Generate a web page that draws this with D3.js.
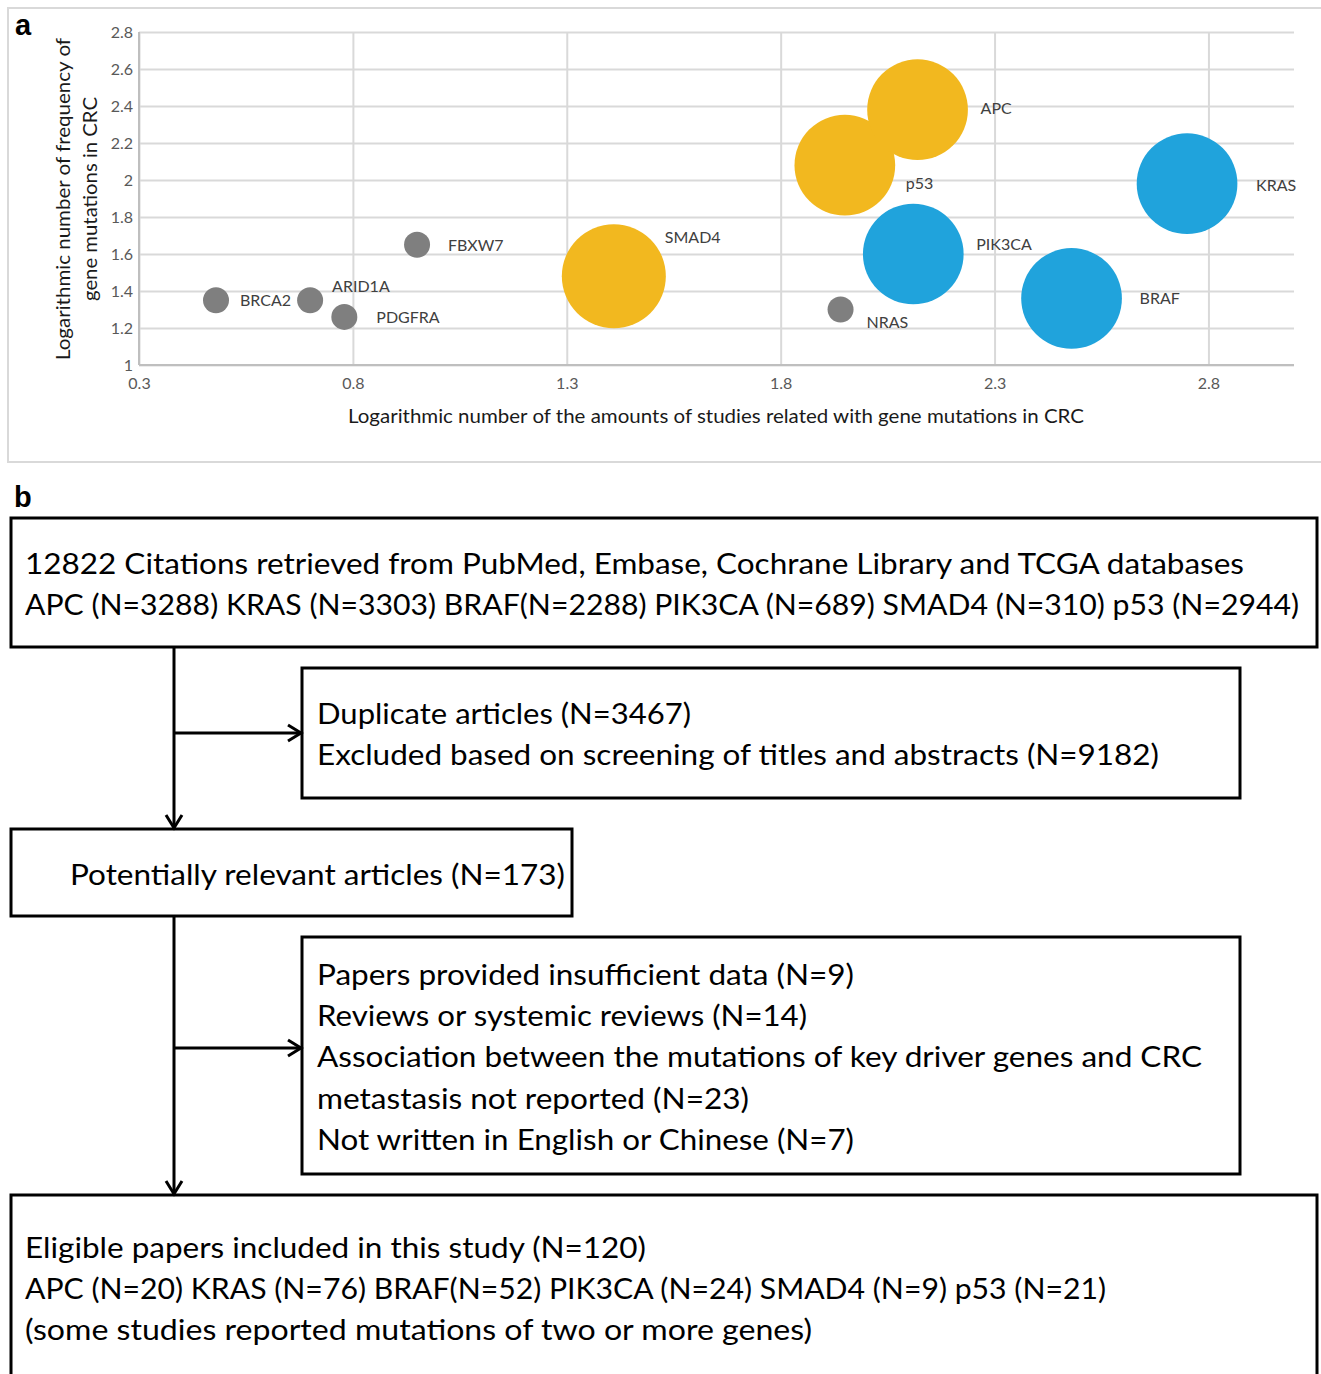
<!DOCTYPE html>
<html>
<head>
<meta charset="utf-8">
<script src="https://cdn.jsdelivr.net/npm/d3@7"></script>
<style>
  body { margin: 0; background: #fff; }
  svg { display: block; }
</style>
</head>
<body>
<div id="chart"></div>
<script>
// ---- panel a data ----
const genes = ["BRCA2", "ARID1A", "PDGFRA", "FBXW7", "SMAD4", "NRAS", "p53", "APC", "PIK3CA", "BRAF", "KRAS"];
const studiesLog = [0.48, 0.70, 0.78, 0.95, 1.41, 1.94, 1.95, 2.12, 2.11, 2.48, 2.75];
const freqLog = [1.35, 1.35, 1.26, 1.65, 1.48, 1.30, 2.08, 2.38, 1.60, 1.36, 1.98];
const bubbleSize = [1, 1, 1, 1, 16, 1, 15, 15, 15, 15, 15];
const geneGroup = ["other", "other", "other", "other", "suppressor", "other", "suppressor", "suppressor", "oncogene", "oncogene", "oncogene"];
const xTicks = [0.3, 0.8, 1.3, 1.8, 2.3, 2.8];
const yTicks = [1, 1.2, 1.4, 1.6, 1.8, 2, 2.2, 2.4, 2.6, 2.8];

// ---- panel b text ----
const box1Lines = [
  "12822 Citations retrieved from PubMed, Embase, Cochrane Library and TCGA databases",
  "APC (N=3288) KRAS (N=3303) BRAF(N=2288) PIK3CA (N=689) SMAD4 (N=310) p53 (N=2944)"
];
const box2Lines = [
  "Duplicate articles (N=3467)",
  "Excluded based on screening of titles and abstracts (N=9182)"
];
const box3Lines = ["Potentially relevant articles (N=173)"];
const box4Lines = [
  "Papers provided insufficient data (N=9)",
  "Reviews or systemic reviews (N=14)",
  "Association between the mutations of key driver genes and CRC",
  "metastasis not reported (N=23)",
  "Not written in English or Chinese (N=7)"
];
const box5Lines = [
  "Eligible papers included in this study (N=120)",
  "APC (N=20) KRAS (N=76) BRAF(N=52) PIK3CA (N=24) SMAD4 (N=9) p53 (N=21)",
  "(some studies reported mutations of two or more genes)"
];

const W = 1321, H = 1374;
const svg = d3.select("#chart").append("svg")
  .attr("width", W)
  .attr("height", H)
  .style("font-family", "Lato, 'Open Sans', sans-serif");

// ================= panel a =================
svg.append("rect")
  .attr("x", 8).attr("y", 8)
  .attr("width", 1320).attr("height", 454)
  .attr("fill", "#fff")
  .attr("stroke", "#d9d9d9")
  .attr("stroke-width", 2);

svg.append("text")
  .attr("x", 15).attr("y", 35)
  .style("font-family", "'Liberation Sans', Arial, sans-serif")
  .style("font-weight", "bold")
  .style("font-size", "29px")
  .text("a");

const plot = { left: 139, right: 1294, top: 32, bottom: 365 };
const x = d3.scaleLinear().domain([0.3, 3.0]).range([plot.left, plot.right]);
const y = d3.scaleLinear().domain([1, 2.8]).range([plot.bottom, plot.top]);
const r = d3.scaleSqrt().domain([0, 16]).range([0, 52]);
const color = d3.scaleOrdinal()
  .domain(["other", "suppressor", "oncogene"])
  .range(["#7f7f7f", "#f2b81f", "#20a3dc"]);

// gridlines
svg.append("g")
  .call(d3.axisLeft(y).tickValues(yTicks).tickSize(-(plot.right - plot.left)).tickFormat(""))
  .attr("transform", `translate(${plot.left},0)`)
  .call(g => g.select(".domain").remove())
  .call(g => g.selectAll("line").attr("stroke", "#d9d9d9").attr("stroke-width", 2));

svg.append("g")
  .call(d3.axisBottom(x).tickValues(xTicks).tickSize(-(plot.bottom - plot.top)).tickFormat(""))
  .attr("transform", `translate(0,${plot.bottom})`)
  .call(g => g.select(".domain").remove())
  .call(g => g.selectAll("line").attr("stroke", "#d9d9d9").attr("stroke-width", 2));

// axis lines
svg.append("line")
  .attr("x1", plot.left).attr("x2", plot.right)
  .attr("y1", plot.bottom).attr("y2", plot.bottom)
  .attr("stroke", "#bfbfbf").attr("stroke-width", 2);
svg.append("line")
  .attr("x1", plot.left).attr("x2", plot.left)
  .attr("y1", plot.top).attr("y2", plot.bottom)
  .attr("stroke", "#bfbfbf").attr("stroke-width", 2);

// tick labels
svg.append("g")
  .attr("transform", `translate(0,${plot.bottom})`)
  .call(d3.axisBottom(x).tickValues(xTicks).tickSize(0).tickPadding(13).tickFormat(d3.format(".1f")))
  .call(g => g.select(".domain").remove())
  .call(g => g.selectAll("text")
    .attr("fill", "#595959")
    .style("font-family", "Lato, sans-serif")
    .style("font-size", "16px"));

svg.append("g")
  .attr("transform", `translate(${plot.left},0)`)
  .call(d3.axisLeft(y).tickValues(yTicks).tickSize(0).tickPadding(6).tickFormat(d => String(+d.toFixed(1))))
  .call(g => g.select(".domain").remove())
  .call(g => g.selectAll("text")
    .attr("fill", "#595959")
    .style("font-family", "Lato, sans-serif")
    .style("font-size", "16px"));

// axis titles
svg.append("text")
  .attr("x", 716).attr("y", 423)
  .attr("text-anchor", "middle")
  .attr("fill", "#1a1a1a")
  .attr("textLength", 736)
  .attr("lengthAdjust", "spacingAndGlyphs")
  .style("font-size", "19px")
  .text("Logarithmic number of the amounts of studies related with gene mutations in CRC");

const yTitle = svg.append("text")
  .attr("transform", `translate(0,199) rotate(-90)`)
  .attr("text-anchor", "middle")
  .attr("fill", "#1a1a1a")
  .style("font-size", "19px");
yTitle.append("tspan").attr("x", 0).attr("y", 70)
  .attr("textLength", 322).attr("lengthAdjust", "spacingAndGlyphs")
  .text("Logarithmic number of frequency of");
yTitle.append("tspan").attr("x", 0).attr("y", 97)
  .attr("textLength", 204).attr("lengthAdjust", "spacingAndGlyphs")
  .text("gene mutations in CRC");

// bubbles
const points = genes.map((g, i) => ({
  gene: g, sx: studiesLog[i], fy: freqLog[i], size: bubbleSize[i], group: geneGroup[i]
}));

svg.append("g")
  .selectAll("circle")
  .data(points)
  .join("circle")
    .attr("cx", d => x(d.sx))
    .attr("cy", d => y(d.fy))
    .attr("r", d => r(d.size))
    .attr("fill", d => color(d.group));

// label placement offsets (px from bubble centre)
const labelOffset = {
  BRCA2: [24, 0], ARID1A: [22, -14], PDGFRA: [32, 0], FBXW7: [31, 0],
  SMAD4: [51, -39], NRAS: [26, 12], p53: [61, 18], APC: [63, -2],
  PIK3CA: [63, -10], BRAF: [68, 0], KRAS: [69, 1]
};

svg.append("g")
  .selectAll("text")
  .data(points)
  .join("text")
    .attr("x", d => x(d.sx) + labelOffset[d.gene][0])
    .attr("y", d => y(d.fy) + labelOffset[d.gene][1] + 6)
    .attr("fill", "#404040")
    .style("font-size", "16px")
    .text(d => d.gene);

// ================= panel b =================
svg.append("text")
  .attr("x", 14).attr("y", 507)
  .style("font-family", "'Liberation Sans', Arial, sans-serif")
  .style("font-weight", "bold")
  .style("font-size", "29px")
  .text("b");

// boxes; widths = measured run length of each text line in the original
const boxes = [
  { x: 11, y: 518, w: 1306, h: 129, tx: 25, ty: 574, lines: box1Lines, widths: [1219, 1274] },
  { x: 302, y: 668, w: 938, h: 130, tx: 317, ty: 724, lines: box2Lines, widths: [374, 842] },
  { x: 11, y: 829, w: 561, h: 87, tx: 70, ty: 885, lines: box3Lines, widths: [495] },
  { x: 302, y: 937, w: 938, h: 237, tx: 317, ty: 985, lines: box4Lines, widths: [537, 490, 885, 432, 537] },
  { x: 11, y: 1195, w: 1306, h: 200, tx: 25, ty: 1258, lines: box5Lines, widths: [621, 1081, 787] }
];
const lineGap = 41.2;

const boxG = svg.append("g");
boxes.forEach(b => {
  boxG.append("rect")
    .attr("x", b.x).attr("y", b.y)
    .attr("width", b.w).attr("height", b.h)
    .attr("fill", "none")
    .attr("stroke", "#000")
    .attr("stroke-width", 3);
  b.lines.forEach((t, i) => {
    boxG.append("text")
      .attr("x", b.tx)
      .attr("y", b.ty + i * lineGap)
      .attr("fill", "#000")
      .attr("textLength", b.widths[i])
      .attr("lengthAdjust", "spacingAndGlyphs")
      .style("font-size", "29px")
      .text(t);
  });
});

// connectors
const trunkX = 174;
const conn = svg.append("g")
  .attr("fill", "none")
  .attr("stroke", "#000")
  .attr("stroke-width", 3)
  .attr("stroke-linejoin", "miter");
const line = d3.line();

conn.append("path").attr("d", line([[trunkX, 647], [trunkX, 828]]));
conn.append("path").attr("d", line([[trunkX, 916], [trunkX, 1194]]));
conn.append("path").attr("d", line([[trunkX, 733], [301, 733]]));
conn.append("path").attr("d", line([[trunkX, 1048], [301, 1048]]));

// open chevron heads
function headDown(px, py) {
  conn.append("path").attr("d", line([[px - 8, py - 14], [px, py - 1], [px + 8, py - 14]]));
}
function headRight(px, py) {
  conn.append("path").attr("d", line([[px - 14, py - 8], [px - 1, py], [px - 14, py + 8]]));
}
headDown(trunkX, 829);
headDown(trunkX, 1195);
headRight(302, 733);
headRight(302, 1048);
</script>
</body>
</html>
